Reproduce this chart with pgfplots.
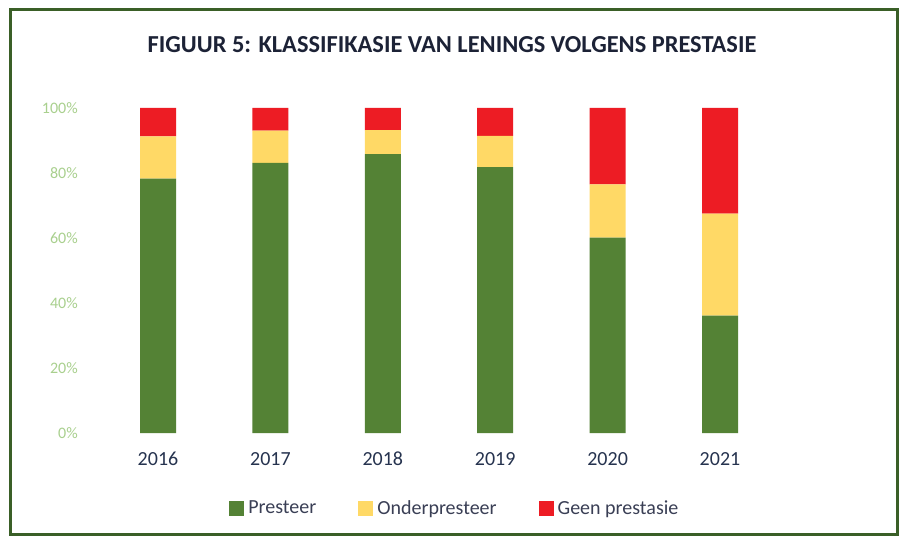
\documentclass[border=0pt]{standalone}
\usepackage{pgfplots}
\pgfplotsset{compat=1.18}
\usepackage{fontspec}
\setmainfont{Carlito}
\definecolor{cgreen}{HTML}{548235}
\definecolor{cyellow}{HTML}{FFD966}
\definecolor{cred}{HTML}{ED1C24}
\definecolor{cframe}{HTML}{3A5F27}
\definecolor{ctick}{HTML}{A9D08E}
\definecolor{cyear}{HTML}{26334F}
\definecolor{clegend}{HTML}{3A3F55}
\definecolor{ctitle}{HTML}{1C2236}
\begin{document}
\begin{tikzpicture}
\useasboundingbox (0,0) rectangle (451.5pt,267.5pt);
\fill[white] (0,0) rectangle (451.5pt,267.5pt);
\draw[cframe, line width=1.5pt] (5.2pt,0.5pt) rectangle (448.5pt,262.8pt);
\node[font=\fontsize{12.2}{14}\selectfont\bfseries, text=ctitle] at (226pt,245pt) {FIGUUR 5: KLASSIFIKASIE VAN LENINGS VOLGENS PRESTASIE};
\begin{axis}[
  at={(50.9pt,51pt)}, anchor=south west,
  scale only axis, width=337.2pt, height=162.5pt,
  xmin=-0.5, xmax=5.5, ymin=0, ymax=100,
  ybar stacked, bar width=18pt,
  axis line style={draw=none},
  major tick length=0pt,
  xtick={0,1,2,3,4,5},
  xticklabels={2016,2017,2018,2019,2020,2021},
  xticklabel style={font=\fontsize{10}{12}\selectfont, text=cyear, anchor=base, yshift=-16pt},
  ytick={0,20,40,60,80,100},
  yticklabel={\pgfmathprintnumber{\tick}\%},
  yticklabel style={font=\fontsize{8}{10}\selectfont, text=ctick, anchor=east, xshift=-8.5pt},
  /pgf/number format/assume math mode=true,
  legend columns=-1,
  legend style={draw=none, fill=none, at={(0.525,-0.233)}, anchor=center,
    font=\fontsize{10}{12}\selectfont, text=clegend,
    /tikz/every even column/.append style={column sep=19pt}},
  legend image code/.code={\fill[#1] (0pt,-3.75pt) rectangle (7.5pt,3.75pt);},
]
\addplot[fill=cgreen, draw=none] coordinates {(0,78.3) (1,83.1) (2,85.8) (3,81.8) (4,60.1) (5,36.1)};
\addplot[fill=cyellow, draw=none] coordinates {(0,13.0) (1,9.9) (2,7.4) (3,9.6) (4,16.4) (5,31.4)};
\addplot[fill=cred, draw=none] coordinates {(0,8.7) (1,7.0) (2,6.8) (3,8.6) (4,23.5) (5,32.5)};
\legend{Presteer, Onderpresteer, Geen prestasie}
\end{axis}
\end{tikzpicture}
\end{document}
